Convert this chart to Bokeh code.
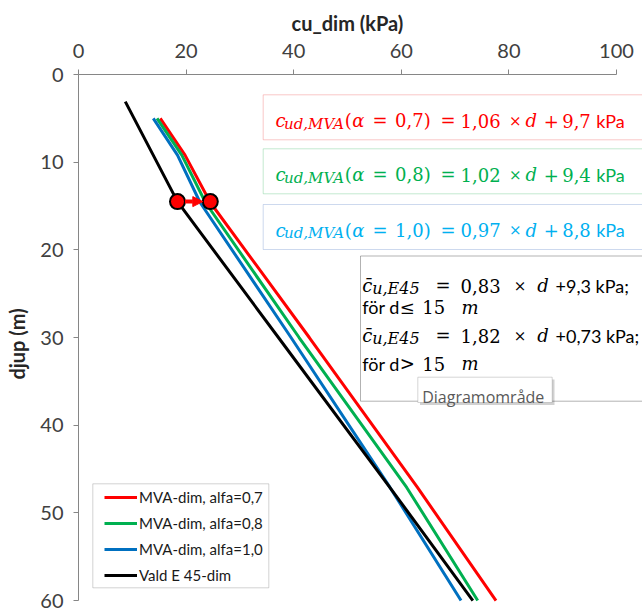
from bokeh.embed import file_html
from bokeh.models import (Arrow, BoxAnnotation, FixedTicker, Label, Legend,
                          LegendItem, NormalHead, Range1d)
from bokeh.plotting import figure
from bokeh.resources import INLINE

# Undrained shear strength cu_dim (kPa) against depth (m)
mva_depth = [5.0, 9.2, 14.6, 30.0, 47.1, 60.0]
mva07_cu = [15.2, 19.8, 24.5, 42.9, 63.0, 77.6]
mva08_cu = [14.6, 19.2, 23.6, 41.0, 61.0, 74.2]
mva10_cu = [13.9, 18.4, 22.6, 39.5, 57.9, 71.1]
e45_depth = [3.1, 14.5, 30.2, 47.2, 60.0]
e45_cu = [8.7, 18.4, 37.4, 58.0, 73.3]

# step from the E 45 value to the MVA value at the breakpoint depth
shift_depth = [14.5, 14.5]
shift_cu = [18.4, 24.5]

series_names = ["MVA-dim, alfa=0,7", "MVA-dim, alfa=0,8",
                "MVA-dim, alfa=1,0", "Vald E 45-dim"]
series_colors = ["#FF0000", "#00B050", "#0070C0", "#000000"]

x_ticks = [0, 20, 40, 60, 80, 100]
y_ticks = [0, 10, 20, 30, 40, 50, 60]

# canvas layout: pixel position of the axis origin and pixels per unit
W, H = 642, 613
FRAME_LEFT, FRAME_TOP = 78, 74
PX_PER_KPA = 5.38
PX_PER_M = 8.767


def sx(px):
    return (px - FRAME_LEFT) / PX_PER_KPA


def sy(py):
    return (py - FRAME_TOP) / PX_PER_M


SANS = "Lato"
SERIF = "DejaVu Serif"
AXIS_GREY = "#868686"
TEXT_DARK = "#404040"
TITLE_DARK = "#262626"

p = figure(width=W, height=H,
           x_range=Range1d(0, sx(W)), y_range=Range1d(sy(H), 0),
           x_axis_location="above", y_axis_location="left",
           output_backend="svg", toolbar_location=None,
           min_border_left=FRAME_LEFT, min_border_top=FRAME_TOP,
           min_border_right=0, min_border_bottom=0)
p.outline_line_color = None
p.grid.visible = False
p.background_fill_color = "white"
p.border_fill_color = "white"

p.xaxis.ticker = FixedTicker(ticks=x_ticks)
p.xaxis.bounds = (0, 100)
p.yaxis.ticker = FixedTicker(ticks=y_ticks)
p.yaxis.bounds = (0, 60)
for ax in (p.xaxis, p.yaxis):
    ax.axis_line_color = AXIS_GREY
    ax.major_tick_line_color = AXIS_GREY
    ax.major_tick_out = 5
    ax.major_tick_in = 0
    ax.minor_tick_line_color = None
    ax.major_label_text_font = SANS
    ax.major_label_text_font_size = "20px"
    ax.major_label_text_color = TEXT_DARK
p.xaxis.major_label_standoff = 12
p.yaxis.major_label_standoff = 10

# depth axis title
p.yaxis.axis_label = "djup (m)"
p.yaxis.axis_label_text_font = SANS
p.yaxis.axis_label_text_font_size = "20px"
p.yaxis.axis_label_text_font_style = "bold"
p.yaxis.axis_label_text_color = TITLE_DARK
p.yaxis.axis_label_standoff = 8

# strength axis title, centred over the 0-100 span of the axis
p.title.text = "cu_dim (kPa)"
p.title.align = "left"
p.title.offset = 213
p.title.standoff = 12
p.title.text_font = SANS
p.title.text_font_size = "20px"
p.title.text_font_style = "bold"
p.title.text_color = TITLE_DARK

# profiles
renderers = []
for cu, depth, color in zip([mva07_cu, mva08_cu, mva10_cu, e45_cu],
                            [mva_depth, mva_depth, mva_depth, e45_depth],
                            series_colors):
    renderers.append(p.line(cu, depth, line_color=color, line_width=3))

# shift arrow and its end points
dot_r = 7.5 / PX_PER_KPA
p.add_layout(Arrow(end=NormalHead(size=10, fill_color="#FF0000",
                                  line_color="#FF0000"),
                   x_start=shift_cu[0] + dot_r, y_start=shift_depth[0],
                   x_end=shift_cu[1] - dot_r, y_end=shift_depth[1],
                   line_color="#FF0000", line_width=4))
p.scatter(shift_cu, shift_depth, size=15, fill_color="#FF0000",
          line_color="#000000", line_width=2)


def box(left, top, right, bottom, line_color, fill="white", alpha=1.0):
    p.add_layout(BoxAnnotation(left=sx(left), right=sx(right),
                               top=sy(top), bottom=sy(bottom),
                               fill_color=fill, fill_alpha=alpha,
                               line_color=line_color, line_width=1))


def put(text, px, py, font, size, color, style="normal"):
    p.add_layout(Label(x=sx(px), y=sy(py), text=text, text_font=font,
                       text_font_size=f"{size}px", text_font_style=style,
                       text_color=color, text_align="left",
                       text_baseline="alphabetic"))


# MVA regression equations
eq_alpha = ["0,7)", "0,8)", "1,0)"]
eq_slope = ["1,06", "1,02", "0,97"]
eq_icpt = ["9,7", "9,4", "8,8"]
eq_text_colors = ["#FF0000", "#00B050", "#00B0F0"]
eq_box_colors = ["#F04848", "#3DB864", "#5B80C8"]
eq_box_tops = [94.3, 148.3, 204.0]

for a, k, m, tc, bc, top in zip(eq_alpha, eq_slope, eq_icpt, eq_text_colors,
                                eq_box_colors, eq_box_tops):
    box(262.7, top, W + 20, top + 45, bc)
    base = top + 25.7
    put("c", 275.0, base, SERIF, 18, tc, "italic")
    put("ud,MVA", 283.5, base + 3, SERIF, 15, tc, "italic")
    put("(", 344.3, base, SERIF, 18, tc)
    put("α", 351.7, base, SERIF, 18, tc, "italic")
    put("=", 372.0, base, SERIF, 18, tc)
    put(a, 394.5, base, SERIF, 18, tc)
    put("=", 440.0, base, SERIF, 18, tc)
    put(k, 460.0, base, SERIF, 18, tc)
    put("×", 508.5, base, SERIF, 15, tc)
    put("d", 525.0, base, SERIF, 18, tc, "italic")
    put("+", 543.3, base, SERIF, 18, tc)
    put(m, 561.7, base, SERIF, 18, tc)
    put("kPa", 595.7, base, SANS, 18, tc)

# E 45 equations, one for each depth interval
e45_slope = ["0,83", "1,82"]
e45_tail = ["+9,3 kPa;", "+0,73 kPa;"]
e45_cond = ["≤", ">"]
box(360.0, 255.5, W + 20, 400.7, "#000000")
for i, (k, tail, cond) in enumerate(zip(e45_slope, e45_tail, e45_cond)):
    b1 = 285.0 + i * 50.0
    b2 = b1 + 21.7 + i * 6.6
    put("c\u0304", 361.7, b1, SERIF, 18, "#000000", "italic")
    put("u,E45", 371.7, b1 + 3, SERIF, 16, "#000000", "italic")
    put("=", 435.0, b1, SERIF, 18, "#000000")
    put(k, 460.0, b1, SERIF, 18, "#000000")
    put("×", 513.3, b1, SERIF, 15, "#000000")
    put("d", 536.7, b1, SERIF, 18, "#000000", "italic")
    put(tail, 555.0, b1, SANS, 18, "#000000")
    put("för d", 361.7, b2, SANS, 18, "#000000")
    put(cond, 399.3, b2, SERIF, 18, "#000000")
    put("15", 421.7, b2, SERIF, 18, "#000000")
    put("m", 461.0, b2, SERIF, 18, "#000000", "italic")

# hover hint over the plot area
box(419.5, 379.0, 554.0, 404.5, None, fill="#000000", alpha=0.18)
box(417.3, 376.7, 551.7, 402.0, "#767676")
put("Diagramområde", 421.7, 396.0, "Open Sans", 16, "#595959")

# legend with its frame
box(92.3, 483.3, 268.3, 587.3, "#6E6E6E")
legend = Legend(items=[LegendItem(label=n, renderers=[r])
                       for n, r in zip(series_names, renderers)],
                location=(26, 28.3), padding=0, spacing=6, margin=0,
                label_height=20, glyph_height=20, glyph_width=33,
                label_standoff=2, border_line_color=None,
                background_fill_alpha=0, label_text_font=SANS,
                label_text_font_size="15px", label_text_color="#1A1A1A")
p.add_layout(legend)

open("out.html", "w").write(file_html(p, INLINE))
